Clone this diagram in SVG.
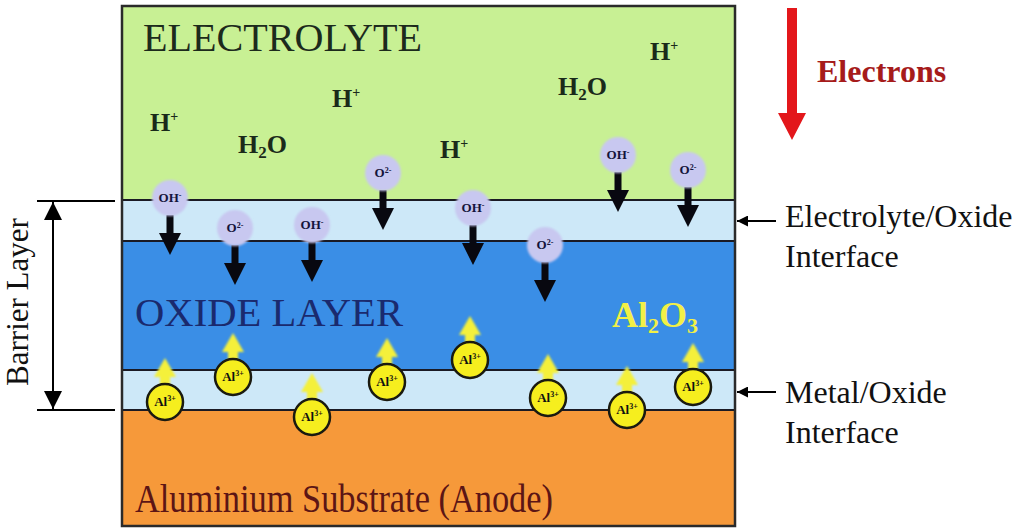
<svg xmlns="http://www.w3.org/2000/svg" width="1024" height="530" viewBox="0 0 1024 530">
<style>
.serif{font-family:"Liberation Serif","Times New Roman",serif}
.lay{font-size:40px}
.spec{font-size:26px;font-weight:bold;fill:#1a2a1a}
.lab{font-size:32px;fill:#111}
.ionl{fill:#c8c8f0;filter:url(#soft)}
.iont{font-family:"Liberation Serif","Times New Roman",serif;font-size:13px;font-weight:bold;fill:#14143c;text-anchor:middle}
.alc{fill:#f6ee1e;stroke:#1a1a10;stroke-width:2.5}
.alt{font-family:"Liberation Serif","Times New Roman",serif;font-size:13px;font-weight:bold;fill:#111;text-anchor:middle}
.yarr{fill:#f4f03a;filter:url(#soft)}
.barr{fill:#080810}
.bnd{stroke:#1a1a24;stroke-width:2}
</style>
<defs>
<filter id="soft" x="-30%" y="-30%" width="160%" height="160%"><feGaussianBlur stdDeviation="0.8"/></filter>
<path id="downArrow" d="M-3.5,17 L3.5,17 L3.5,35 L11,35 L0,57 L-11,35 L-3.5,35 Z"/>
<path id="upArrow" d="M0,-44 L11,-25 L5,-25 L5,-8 L-5,-8 L-5,-25 L-11,-25 Z"/>
<marker id="ah" viewBox="0 0 10 10" refX="10" refY="5" markerWidth="12" markerHeight="11" markerUnits="userSpaceOnUse" orient="auto-start-reverse"><path d="M0,0 L10,5 L0,10 Z" fill="#000"/></marker>
<marker id="ahb" viewBox="0 0 10 10" refX="10" refY="5" markerWidth="18" markerHeight="18" orient="auto-start-reverse" markerUnits="userSpaceOnUse"><path d="M0,0 L10,5 L0,10 Z" fill="#000"/></marker>
</defs>

<g id="layers">
<rect x="122" y="6" width="613" height="194" fill="#c8f094"/>
<rect x="122" y="200" width="613" height="41" fill="#cde8f8"/>
<rect x="122" y="241" width="613" height="129" fill="#3a8ee6"/>
<rect x="122" y="370" width="613" height="40" fill="#cde8f8"/>
<rect x="122" y="410" width="613" height="116" fill="#f6993a"/>
<line class="bnd" x1="122" y1="200" x2="735" y2="200"/>
<line class="bnd" x1="122" y1="241" x2="735" y2="241"/>
<line class="bnd" x1="122" y1="370" x2="735" y2="370"/>
<line class="bnd" x1="122" y1="410" x2="735" y2="410"/>
<rect x="122" y="6" width="613" height="520" fill="none" stroke="#2a2a2a" stroke-width="2.5"/>
<text class="serif lay" x="143" y="51" fill="#1c2a1c" textLength="279" lengthAdjust="spacingAndGlyphs">ELECTROLYTE</text>
<text class="serif lay" x="135" y="326" fill="#1a2a6e" textLength="268" lengthAdjust="spacingAndGlyphs">OXIDE LAYER</text>
<text class="serif lay" x="135" y="512" fill="#5c1515" textLength="418" lengthAdjust="spacingAndGlyphs">Aluminium Substrate (Anode)</text>
<text class="serif" x="612" y="327" font-size="36" font-weight="bold" fill="#f2f046">Al<tspan font-size="22" dy="6">2</tspan><tspan dy="-6">O</tspan><tspan font-size="22" dy="6">3</tspan></text>
</g>

<g id="species">
<text class="serif spec" x="150" y="131">H<tspan font-size="14" dy="-10">+</tspan></text>
<text class="serif spec" x="332" y="107">H<tspan font-size="14" dy="-10">+</tspan></text>
<text class="serif spec" x="650" y="60">H<tspan font-size="14" dy="-10">+</tspan></text>
<text class="serif spec" x="440" y="158">H<tspan font-size="14" dy="-10">+</tspan></text>
<text class="serif spec" x="238" y="153">H<tspan font-size="17" dy="5">2</tspan><tspan dy="-5">O</tspan></text>
<text class="serif spec" x="558" y="95">H<tspan font-size="17" dy="5">2</tspan><tspan dy="-5">O</tspan></text>
</g>

<g id="anions">
<g transform="translate(170,198)"><use href="#downArrow" class="barr"/><circle class="ionl" r="18"/><text class="iont" y="4">OH<tspan font-size="8" dy="-4">-</tspan></text></g>
<g transform="translate(235,228)"><use href="#downArrow" class="barr"/><circle class="ionl" r="18"/><text class="iont" y="4">O<tspan font-size="8" dy="-4">2-</tspan></text></g>
<g transform="translate(312,225)"><use href="#downArrow" class="barr"/><circle class="ionl" r="18"/><text class="iont" y="4">OH<tspan font-size="8" dy="-4">-</tspan></text></g>
<g transform="translate(383,173)"><use href="#downArrow" class="barr"/><circle class="ionl" r="18"/><text class="iont" y="4">O<tspan font-size="8" dy="-4">2-</tspan></text></g>
<g transform="translate(473,208)"><use href="#downArrow" class="barr"/><circle class="ionl" r="18"/><text class="iont" y="4">OH<tspan font-size="8" dy="-4">-</tspan></text></g>
<g transform="translate(545,245)"><use href="#downArrow" class="barr"/><circle class="ionl" r="18"/><text class="iont" y="4">O<tspan font-size="8" dy="-4">2-</tspan></text></g>
<g transform="translate(618,155)"><use href="#downArrow" class="barr"/><circle class="ionl" r="18"/><text class="iont" y="4">OH<tspan font-size="8" dy="-4">-</tspan></text></g>
<g transform="translate(688,170)"><use href="#downArrow" class="barr"/><circle class="ionl" r="18"/><text class="iont" y="4">O<tspan font-size="8" dy="-4">2-</tspan></text></g>
</g>

<g id="cations">
<g transform="translate(165,402)"><use href="#upArrow" class="yarr"/><circle class="alc" r="18"/><text class="alt" y="4">Al<tspan font-size="8" dy="-5">3+</tspan></text></g>
<g transform="translate(233,377)"><use href="#upArrow" class="yarr"/><circle class="alc" r="18"/><text class="alt" y="4">Al<tspan font-size="8" dy="-5">3+</tspan></text></g>
<g transform="translate(312,417)"><use href="#upArrow" class="yarr"/><circle class="alc" r="18"/><text class="alt" y="4">Al<tspan font-size="8" dy="-5">3+</tspan></text></g>
<g transform="translate(387,382)"><use href="#upArrow" class="yarr"/><circle class="alc" r="18"/><text class="alt" y="4">Al<tspan font-size="8" dy="-5">3+</tspan></text></g>
<g transform="translate(470,360)"><use href="#upArrow" class="yarr"/><circle class="alc" r="18"/><text class="alt" y="4">Al<tspan font-size="8" dy="-5">3+</tspan></text></g>
<g transform="translate(548,398)"><use href="#upArrow" class="yarr"/><circle class="alc" r="18"/><text class="alt" y="4">Al<tspan font-size="8" dy="-5">3+</tspan></text></g>
<g transform="translate(627,410)"><use href="#upArrow" class="yarr"/><circle class="alc" r="18"/><text class="alt" y="4">Al<tspan font-size="8" dy="-5">3+</tspan></text></g>
<g transform="translate(693,387)"><use href="#upArrow" class="yarr"/><circle class="alc" r="18"/><text class="alt" y="4">Al<tspan font-size="8" dy="-5">3+</tspan></text></g>
</g>

<g id="electrons">
<path d="M787,8 L797,8 L797,113 L806,113 L792,140 L778,113 L787,113 Z" fill="#e3171b"/>
<text class="serif" x="817" y="82" font-size="32" font-weight="bold" fill="#a61b1b">Electrons</text>
</g>

<g id="barrier">
<line x1="37" y1="201" x2="115" y2="201" stroke="#000" stroke-width="2"/>
<line x1="37" y1="410" x2="115" y2="410" stroke="#000" stroke-width="2"/>
<line x1="53" y1="202" x2="53" y2="409" stroke="#000" stroke-width="2" marker-start="url(#ahb)" marker-end="url(#ahb)"/>
<text class="serif" font-size="31" fill="#111" transform="translate(28,302) rotate(-90)" text-anchor="middle">Barrier Layer</text>
</g>

<g id="connectors">
<line x1="776" y1="221" x2="737" y2="221" stroke="#000" stroke-width="2" marker-end="url(#ah)"/>
<line x1="776" y1="392" x2="737" y2="392" stroke="#000" stroke-width="2" marker-end="url(#ah)"/>
</g>

<g id="labels">
<text class="serif lab" x="785" y="227">Electrolyte/Oxide</text>
<text class="serif lab" x="785" y="267">Interface</text>
<text class="serif lab" x="785" y="403">Metal/Oxide</text>
<text class="serif lab" x="785" y="443">Interface</text>
</g>
</svg>
